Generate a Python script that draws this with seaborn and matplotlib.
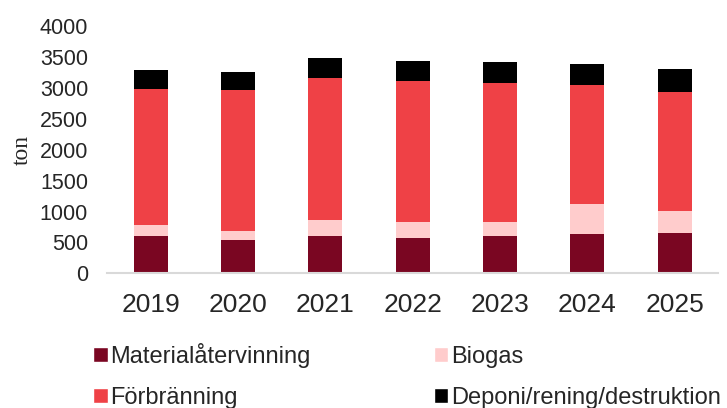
import numpy as np
import pandas as pd
import matplotlib
matplotlib.use("Agg")
import matplotlib.pyplot as plt
from matplotlib.patches import Patch
import seaborn as sns

years = ["2019", "2020", "2021", "2022", "2023", "2024", "2025"]
material = [606, 541, 606, 566, 598, 635, 649]
biogas = [173, 146, 263, 258, 226, 493, 361]
forbranning = [2197, 2278, 2289, 2281, 2253, 1912, 1931]
deponi = [307, 295, 328, 323, 340, 349, 371]

labels = ["Materialåtervinning", "Biogas", "Förbränning", "Deponi/rening/destruktion"]
colors = ["#7a0622", "#ffcccc", "#ef4146", "#000000"]

sns.set_style("white")
plt.rcParams["font.family"] = ["Liberation Sans", "DejaVu Sans"]

df = pd.DataFrame({"year": years, labels[0]: material, labels[1]: biogas,
                   labels[2]: forbranning, labels[3]: deponi})
cum = df[labels].cumsum(axis=1)

fig = plt.figure(figsize=(7.27, 4.08), dpi=100)
ax = fig.add_axes([0.147, 0.33, 0.841, 0.606])

# staplade staplar: rita summorna uppifrån och ned
for lab, col in zip(labels[::-1], colors[::-1]):
    sns.barplot(x=df["year"], y=cum[lab], color=col, saturation=1, width=0.39,
                edgecolor="none", linewidth=0, ax=ax)

ax.set_ylim(0, 4000)
ax.set_xlim(-0.5, 6.5)
ax.set_yticks(np.arange(0, 4001, 500))
ax.tick_params(axis="y", labelsize=15.5, length=0, pad=13.5)
ax.tick_params(axis="x", labelsize=19, length=0, pad=14)
ax.set_xlabel("")
ax.set_ylabel("ton", fontsize=17, family="Liberation Serif", labelpad=5)
for s in ["top", "right", "left"]:
    ax.spines[s].set_visible(False)
ax.spines["bottom"].set_color("#d9d9d9")
ax.spines["bottom"].set_linewidth(1.5)

order = [0, 2, 1, 3]
handles = [Patch(facecolor=colors[i], label=labels[i]) for i in order]
fig.legend(handles=handles, loc="upper left", bbox_to_anchor=(0.1155, 0.183),
           ncol=2, frameon=False, fontsize=17, handlelength=0.6, handleheight=0.62,
           handletextpad=0.1, columnspacing=5.25, labelspacing=0.8,
           borderaxespad=0)

fig.savefig("out.png", dpi=100)
